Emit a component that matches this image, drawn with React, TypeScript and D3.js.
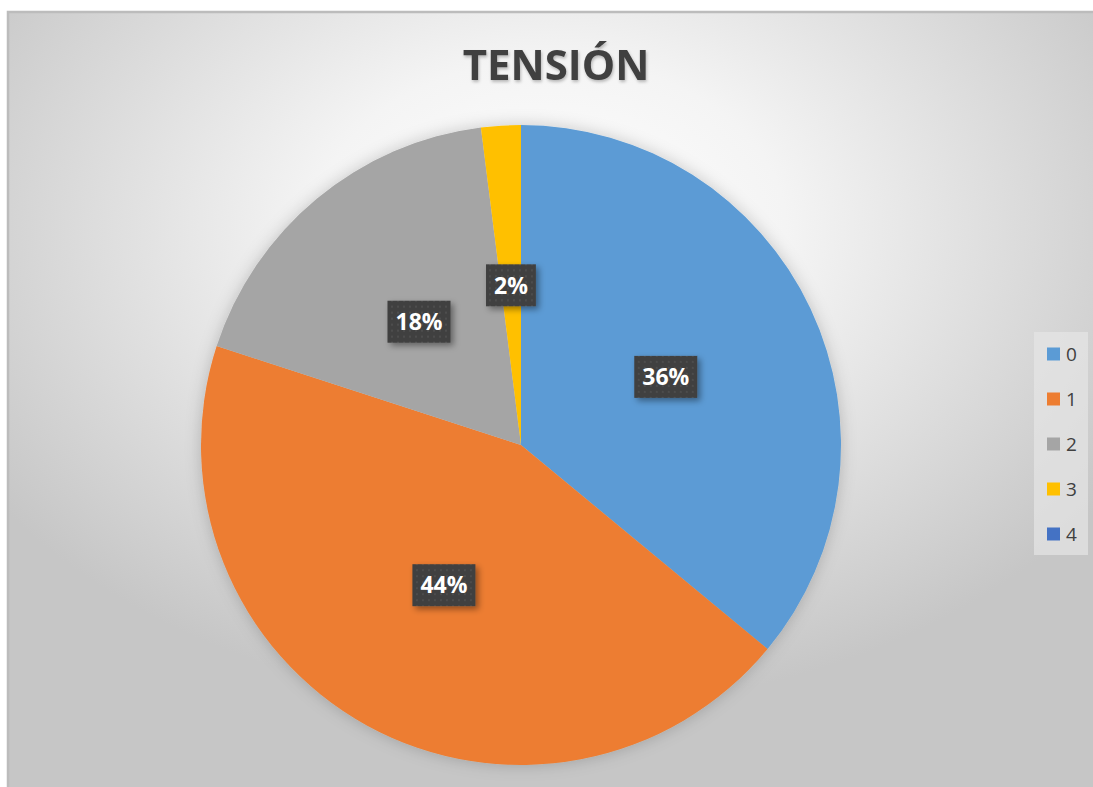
import { useEffect, useRef } from "react";
import * as d3 from "d3";

// Tension chart data (percent of responses)
const categories = ["0", "1", "2", "3", "4"];
const values = [36, 44, 18, 2, 0];
const colors = ["#5B9BD5", "#ED7D31", "#A5A5A5", "#FFC000", "#4472C4"];
const title = "TENSIÓN";

export default function App() {
  const ref = useRef<SVGSVGElement>(null);

  useEffect(() => {
    if (!ref.current) return;
    const svg = d3.select(ref.current);
    svg.selectAll("*").remove();

    const width = 1093;
    const height = 787;
    const cx = 521;
    const cy = 445;
    const radius = 320;

    const defs = svg.append("defs");

    // chart area background
    const grad = defs.append("radialGradient")
      .attr("id", "bg")
      .attr("cx", 0.5).attr("cy", 0.28).attr("r", 0.62)
      .attr("fx", 0.5).attr("fy", 0.28);
    grad.append("stop").attr("offset", "0%").attr("stop-color", "#ffffff");
    grad.append("stop").attr("offset", "35%").attr("stop-color", "#f4f4f4");
    grad.append("stop").attr("offset", "100%").attr("stop-color", "#c6c6c6");

    const pieShadow = defs.append("filter").attr("id", "pieShadow")
      .attr("x", "-20%").attr("y", "-20%").attr("width", "140%").attr("height", "140%");
    pieShadow.append("feDropShadow")
      .attr("dx", 0).attr("dy", 0).attr("stdDeviation", 8)
      .attr("flood-color", "#000").attr("flood-opacity", 0.2);

    const boxShadow = defs.append("filter").attr("id", "boxShadow")
      .attr("x", "-30%").attr("y", "-30%").attr("width", "170%").attr("height", "170%");
    boxShadow.append("feDropShadow")
      .attr("dx", 3).attr("dy", 3).attr("stdDeviation", 3)
      .attr("flood-color", "#000").attr("flood-opacity", 0.4);

    const titleShadow = defs.append("filter").attr("id", "titleShadow");
    titleShadow.append("feDropShadow")
      .attr("dx", 1).attr("dy", 2).attr("stdDeviation", 1.5)
      .attr("flood-color", "#000").attr("flood-opacity", 0.25);

    const dots = defs.append("pattern").attr("id", "dots")
      .attr("patternUnits", "userSpaceOnUse").attr("width", 6).attr("height", 6);
    dots.append("rect").attr("width", 6).attr("height", 6).attr("fill", "#404040");
    dots.append("rect").attr("x", 2).attr("y", 2).attr("width", 2).attr("height", 2).attr("fill", "#4d4d4d");

    svg.append("rect")
      .attr("x", 7).attr("y", 11)
      .attr("width", width - 7).attr("height", height - 11)
      .attr("fill", "url(#bg)");
    svg.append("path")
      .attr("d", `M8,${height} V12 H${width}`)
      .attr("fill", "none").attr("stroke", "#bcbcbc").attr("stroke-width", 2.5);

    // title
    svg.append("text")
      .attr("x", 556).attr("y", 80)
      .attr("text-anchor", "middle")
      .attr("font-family", "'Open Sans', sans-serif")
      .attr("font-weight", "bold")
      .attr("font-size", 42)
      .attr("fill", "#404040")
      .attr("filter", "url(#titleShadow)")
      .text(title);

    // pie
    const pie = d3.pie<number>().sort(null).value(d => d);
    const arcs = pie(values);
    const arc = d3.arc<d3.PieArcDatum<number>>().innerRadius(0).outerRadius(radius);

    const g = svg.append("g").attr("transform", `translate(${cx},${cy})`);
    g.append("g").attr("filter", "url(#pieShadow)")
      .selectAll("path")
      .data(arcs)
      .enter()
      .append("path")
      .attr("d", arc)
      .attr("fill", (_, i) => colors[i]);

    // data labels at half radius
    const total = d3.sum(values);
    arcs.forEach(a => {
      if (a.data === 0) return;
      const [lx, ly] = arc.centroid(a);
      const label = `${Math.round((a.data / total) * 100)}%`;
      const lg = g.append("g").attr("transform", `translate(${lx},${ly})`);
      const rect = lg.append("rect").attr("fill", "url(#dots)").attr("filter", "url(#boxShadow)");
      const t = lg.append("text")
        .attr("text-anchor", "middle")
        .attr("dy", "0.36em")
        .attr("font-family", "'Open Sans', sans-serif")
        .attr("font-weight", "bold")
        .attr("font-size", 23)
        .attr("fill", "#ffffff")
        .text(label);
      const w = (t.node() as SVGTextElement).getComputedTextLength() + 16;
      rect.attr("x", -w / 2).attr("y", -21).attr("width", w).attr("height", 42);
    });

    // legend
    const legend = svg.append("g");
    legend.append("rect")
      .attr("x", 1034).attr("y", 332).attr("width", 54).attr("height", 223)
      .attr("fill", "#e6e6e6").attr("fill-opacity", 0.7);
    const ly = d3.scalePoint<string>().domain(categories).range([354, 534]);
    categories.forEach((c, i) => {
      const y = ly(c) || 0;
      legend.append("rect")
        .attr("x", 1047).attr("y", y - 6.5).attr("width", 13).attr("height", 13)
        .attr("fill", colors[i]);
      legend.append("text")
        .attr("x", 1066).attr("y", y).attr("dy", "0.36em")
        .attr("font-family", "'Open Sans', sans-serif")
        .attr("font-size", 19)
        .attr("fill", "#404040")
        .text(c);
    });
  }, []);

  return (
    <svg
      ref={ref}
      width={1093}
      height={787}
      style={{ position: "absolute", left: 0, top: 0, display: "block" }}
    />
  );
}
